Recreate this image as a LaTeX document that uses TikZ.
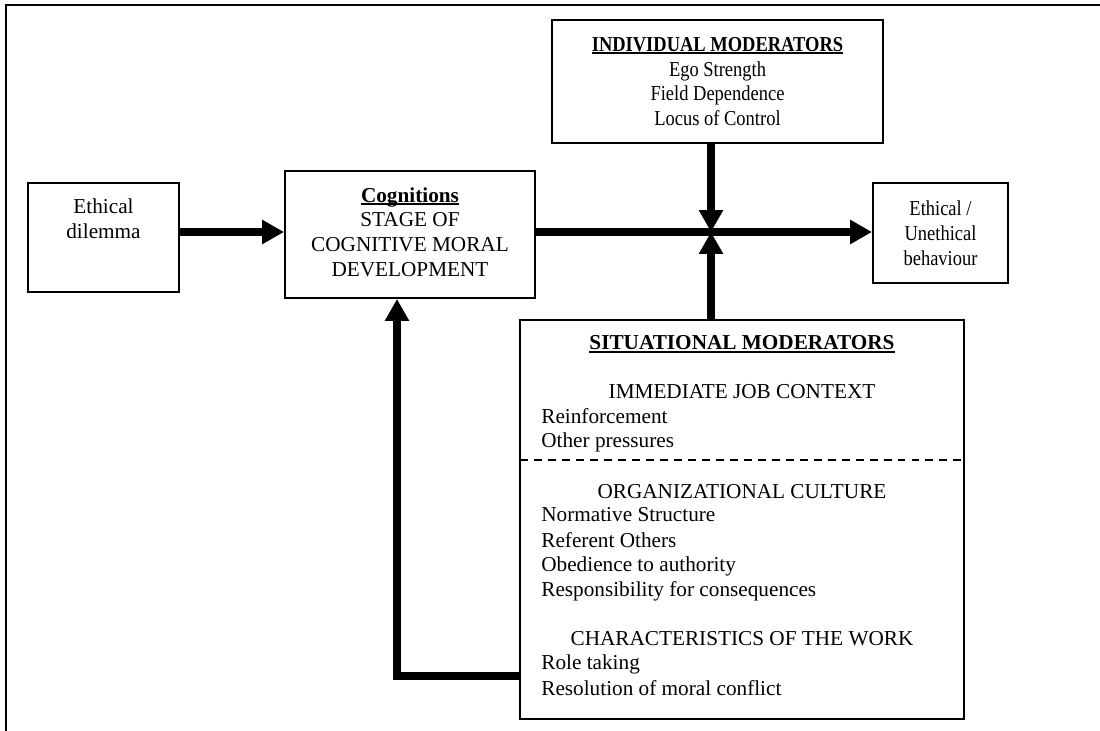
\documentclass[tikz,border=0pt]{standalone}
\usepackage{fontspec}
\usepackage{graphicx}
\setmainfont{Liberation Serif}
\usetikzlibrary{arrows.meta}
% one drawing unit = 0.565pt
\def\unitpx{*0.565pt}
% word-processor style underline, close under the baseline
\newlength\ulwd
\newcommand{\wordul}[1]{\settowidth{\ulwd}{#1}\rlap{\rule[-1.5pt]{\ulwd}{0.8pt}}#1}
% horizontally condensed text
\newcommand{\cond}[1]{\scalebox{0.87}[1]{#1}}
\begin{document}
\begin{tikzpicture}[x=0.565pt,y=-0.565pt,
  box/.style={draw, line width=1.1pt, inner sep=0pt},
  txt/.style={font=\fontsize{12}{14}\selectfont, inner sep=0pt},
  flow/.style={line width=4.2pt, -{Triangle[width=13pt,length=12.4pt]}},
  divider/.style={line width=0.6pt, dash pattern=on 4.5pt off 3.4pt},
  frame/.style={line width=1.4pt},
  ]
\useasboundingbox (0,0) rectangle (1100,731);

% outer frame (top and left edges)
\draw[frame] (6,731) -- (6,5) -- (1100,5);

% input
\node[box, minimum width=151\unitpx, minimum height=109\unitpx] (dil) at (103.5,237.5) {};
\node[txt, align=center] (diltxt) at (103.5,218.5) {Ethical\\dilemma};

% cognitions
\node[box, minimum width=250\unitpx, minimum height=127\unitpx] (cog) at (410,234.5) {};
\node[txt, align=center] (cogtxt) at (410,232)
  {\wordul{\textbf{Cognitions}}\\STAGE OF\\COGNITIVE MORAL\\DEVELOPMENT};

% individual moderators
\node[box, txt, align=center, minimum width=331\unitpx, minimum height=123\unitpx] (ind) at (717.5,81.5)
  {\cond{\wordul{\textbf{INDIVIDUAL MODERATORS}}}\\\cond{Ego Strength}\\\cond{Field Dependence}\\\cond{Locus of Control}};

% outcome
\node[box, txt, align=center, minimum width=135\unitpx, minimum height=100\unitpx] (beh) at (940.5,233)
  {\cond{Ethical /}\\\cond{Unethical}\\\cond{behaviour}};

% situational moderators
\node[box, minimum width=444\unitpx, minimum height=399\unitpx] (sit) at (742,519.5) {};
\node[txt, anchor=base] (sith) at (742,350) {\wordul{\textbf{SITUATIONAL MODERATORS}}};
\node[txt, anchor=base] (ijc) at (742,399) {IMMEDIATE JOB CONTEXT};
\node[txt, anchor=base west] (ijc1) at (541,424) {Reinforcement};
\node[txt, anchor=base west] (ijc2) at (541,448) {Other pressures};
\coordinate (divL) at (520,460);
\draw[divider] (divL) -- (divL -| sit.east);
\node[txt, anchor=base] (oc) at (742,498) {ORGANIZATIONAL CULTURE};
\node[txt, anchor=base west] (oc1) at (541,522) {Normative Structure};
\node[txt, anchor=base west] (oc2) at (541,547) {Referent Others};
\node[txt, anchor=base west] (oc3) at (541,571) {Obedience to authority};
\node[txt, anchor=base west] (oc4) at (541,596) {Responsibility for consequences};
\node[txt, anchor=base] (cw) at (742,645) {CHARACTERISTICS OF THE WORK};
\node[txt, anchor=base west] (cw1) at (541,669) {Role taking};
\node[txt, anchor=base west] (cw2) at (541,695) {Resolution of moral conflict};

% connectors
\coordinate (hub) at (711,232);
\draw[flow] (dil.east |- hub) -- (cog.west |- hub);
\draw[flow] (cog.east |- hub) -- (beh.west |- hub);
\draw[flow] (ind.south -| hub) -- (hub);
\draw[flow] (sit.north -| hub) -- (hub);
\coordinate (fb) at (397,676);
\draw[flow] (sit.west |- fb) -| (cog.south -| fb);
\end{tikzpicture}
\end{document}
